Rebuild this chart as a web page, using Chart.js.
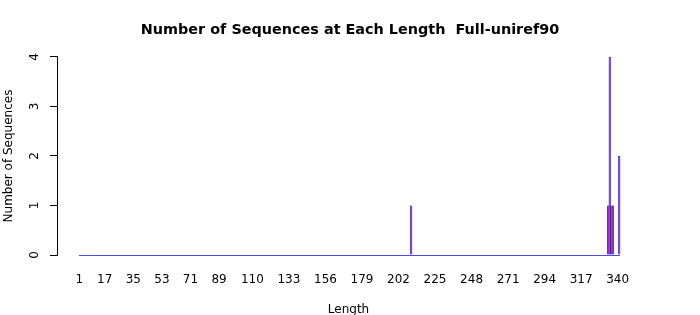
<!DOCTYPE html>
<html>
<head>
<meta charset="utf-8">
<script src="https://cdn.jsdelivr.net/npm/chart.js@4"></script>
<style>
  html, body { margin: 0; padding: 0; background: #ffffff; }
  #wrap { width: 700px; height: 315px; }
</style>
</head>
<body>
<div id="wrap"><canvas id="c" width="700" height="315"></canvas></div>
<script>
// ---- data ----
const firstLength = 1;
const lastLength = 341;
const lengths = [210, 334, 335, 336, 337, 341];
const counts  = [1, 1, 4, 1, 1, 2];
const xTickLabels = [1, 17, 35, 53, 71, 89, 110, 133, 156, 179, 202, 225, 248, 271, 294, 317, 340];
const yTickLabels = [0, 1, 2, 3, 4];
const titleText = 'Number of Sequences at Each Length  Full-uniref90';
const xTitle = 'Length';
const yTitle = 'Number of Sequences';

const FONT = "'DejaVu Sans', sans-serif";
const BAR_FRAC = 1 / 1.2;

const points = lengths.map((l, i) => ({ x: l, y: counts[i] }));

// baseline under zero-height bars (R barplot draws their borders)
const baselinePlugin = {
  id: 'baseline',
  afterDatasetsDraw(chart) {
    const xs = chart.scales.x, ys = chart.scales.y, ctx = chart.ctx;
    const x0 = xs.getPixelForValue(firstLength - BAR_FRAC / 2);
    const x1 = xs.getPixelForValue(lastLength + BAR_FRAC / 2);
    const y = Math.round(ys.getPixelForValue(0));
    ctx.save();
    ctx.fillStyle = '#4a4aee';
    ctx.fillRect(Math.round(x0), y, Math.round(x1 - x0), 1);
    ctx.restore();
  }
};

new Chart(document.getElementById('c'), {
  type: 'bar',
  data: {
    datasets: [{
      data: points,
      backgroundColor: '#d80040',
      borderColor: '#3000d8',
      borderWidth: 0.8,
      borderSkipped: false,
      categoryPercentage: 1,
      barPercentage: 1.45
    }]
  },
  options: {
    responsive: false,
    animation: false,
    devicePixelRatio: 1,
    layout: { padding: { left: 0, right: 0, top: 0, bottom: 0 } },
    plugins: {
      legend: { display: false },
      tooltip: { enabled: false },
      title: {
        display: true,
        text: titleText,
        color: '#000000',
        font: { family: FONT, size: 14.4, weight: 'bold' },
        padding: { top: 22, bottom: 17.7 }
      }
    },
    scales: {
      x: {
        type: 'linear',
        offset: false,
        min: -13.04,
        max: 354.06,
        grid: { display: false, drawTicks: false },
        border: { display: false },
        ticks: {
          autoSkip: false,
          maxRotation: 0,
          minRotation: 0,
          padding: 18,
          color: '#000000',
          font: { family: FONT, size: 12 },
          callback: v => String(v)
        },
        afterBuildTicks: s => { s.ticks = xTickLabels.map(v => ({ value: v })); },
        afterFit: s => { s.height = 60; },
        title: {
          display: true,
          text: xTitle,
          color: '#000000',
          font: { family: FONT, size: 12 },
          padding: { top: 0, bottom: -2 }
        }
      },
      y: {
        min: 0,
        max: 4,
        grid: {
          display: true,
          drawOnChartArea: false,
          drawTicks: true,
          tickLength: 7,
          color: '#000000',
          lineWidth: 1
        },
        border: { display: true, color: '#000000', width: 1 },
        ticks: {
          stepSize: 1,
          minRotation: 90,
          maxRotation: 90,
          crossAlign: 'center',
          padding: 11,
          color: '#000000',
          font: { family: FONT, size: 12 },
          callback: v => String(v)
        },
        afterBuildTicks: s => { s.ticks = yTickLabels.map(v => ({ value: v })); },
        afterFit: s => { s.width = 57; },
        title: {
          display: true,
          text: yTitle,
          color: '#000000',
          font: { family: FONT, size: 12 },
          padding: { top: 1.7, bottom: 0 }
        }
      },
      // empty right-hand margin so the plot region ends where R's does
      yRight: {
        position: 'right',
        display: true,
        grid: { display: false, drawTicks: false },
        border: { display: false },
        ticks: { display: false },
        title: { display: false },
        afterFit: s => { s.width = 60; }
      }
    }
  },
  plugins: [baselinePlugin]
});
</script>
</body>
</html>
